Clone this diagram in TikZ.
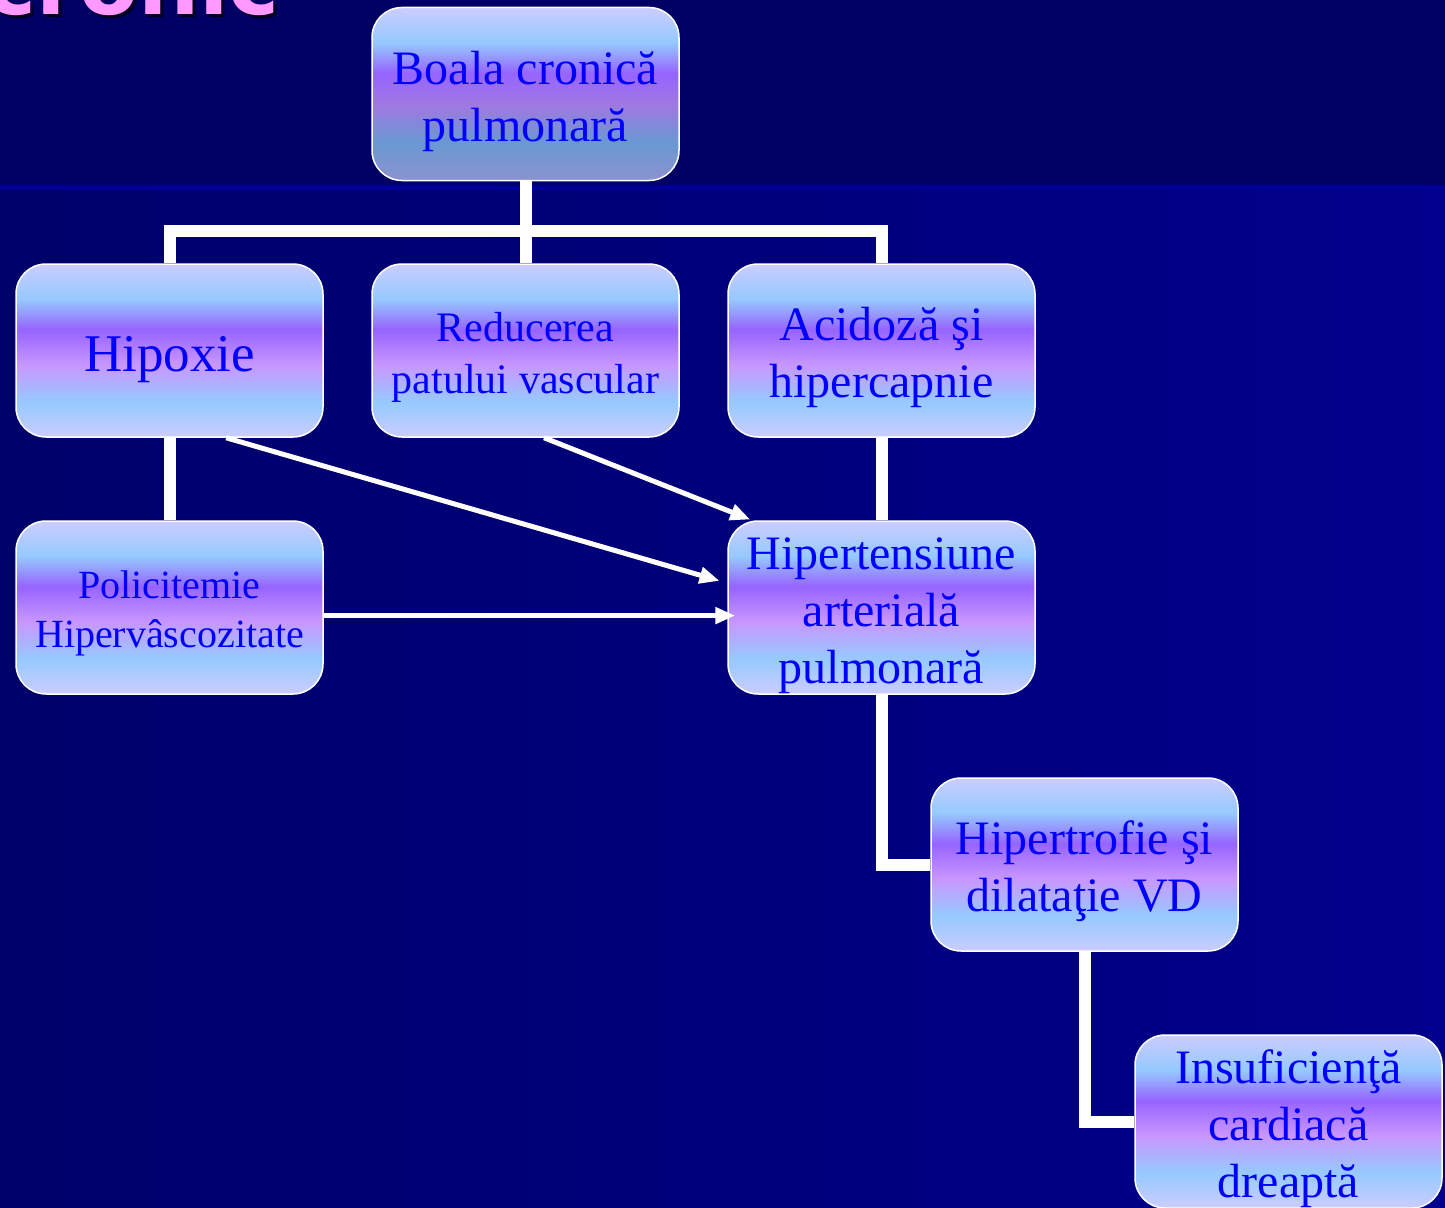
\documentclass[tikz,border=0pt]{standalone}
\usepackage{fontspec}
\setmainfont{Liberation Serif}
\newfontfamily\titlefont{DejaVu Sans}
\usetikzlibrary{arrows.meta, calc}

\definecolor{bgtop}{RGB}{0,0,100}
\definecolor{bgline}{RGB}{0,0,150}
\definecolor{bgleft}{RGB}{0,0,106}
\definecolor{bgright}{RGB}{0,0,140}
\definecolor{textblue}{RGB}{0,0,255}
\definecolor{titlepink}{RGB}{255,153,255}
\definecolor{titleshade}{RGB}{0,0,30}
\definecolor{boxlav}{RGB}{204,204,255}
\definecolor{boxblue}{RGB}{150,202,255}
\definecolor{boxpurple}{RGB}{150,100,255}
\definecolor{boxlilac}{RGB}{200,150,255}
\definecolor{topsteel}{RGB}{105,152,210}
\definecolor{topbottom}{RGB}{140,146,206}
\definecolor{topmauve}{RGB}{160,120,225}

\pgfdeclareverticalshading{boxshade}{100bp}{color(0bp)=(boxlav); color(25bp)=(boxlav);
  color(35bp)=(boxblue); color(46bp)=(boxlilac); color(56bp)=(boxpurple);
  color(65bp)=(boxblue); color(75bp)=(boxlav); color(100bp)=(boxlav)}
\pgfdeclareverticalshading{topshade}{100bp}{color(0bp)=(topbottom); color(25bp)=(topbottom);
  color(36bp)=(topsteel); color(47bp)=(topmauve); color(56bp)=(boxpurple);
  color(65bp)=(boxblue); color(75bp)=(boxlav); color(100bp)=(boxlav)}

% taller first line, so the text sits a little low in its box
\newcommand{\boxstrut}{\rule{0pt}{1em}}

\begin{document}
\begin{tikzpicture}[x=1pt,y=-1pt,
box/.style={draw=white,line width=1.5pt,rounded corners=30pt,shading=boxshade,
  minimum width=307pt,minimum height=173pt,inner sep=0pt,align=center,
  text=textblue,font=\fontsize{48}{57}\selectfont},
tree/.style={white,line width=12pt},
link/.style={white,line width=5pt,-{Triangle[length=20pt,width=16pt]}},
heading/.style={inner sep=0pt,anchor=base east,font=\titlefont\bfseries\fontsize{86}{86}\selectfont}]

  \useasboundingbox (0,0) rectangle (1445,1207);

  % background
  \fill[bgtop] (0,0) rectangle (1445,186);
  \fill[left color=bgleft,right color=bgright] (0,190) rectangle (1445,1207);
  \fill[bgline] (0,185) rectangle (1445,190);

  % title, cut at the top
  \node[heading,text=titleshade] (titleshadow) at (283,18) {cronic};
  \node[heading,text=titlepink]  (title)       at (280,15) {cronic};

  % boxes
  \node[box,shading=topshade] (boala) at (525.5,94) {\boxstrut Boala cronică\\pulmonară};
  \node[box,font=\fontsize{53}{60}\selectfont] (hipoxie) at (169.5,350.5) {\boxstrut Hipoxie};
  \node[box,font=\fontsize{42}{52}\selectfont] (reducerea) at (525.5,350.5) {\boxstrut Reducerea\\patului vascular};
  \node[box] (acidoza) at (881.5,350.5) {\boxstrut Acidoză şi\\hipercapnie};
  \node[box,font=\fontsize{40}{49}\selectfont] (policitemie) at (169.5,607.5) {\boxstrut Policitemie\\Hipervâscozitate};
  \node[box] (hta) at (881.5,607.5) {\boxstrut Hipertensiune\\arterială\\pulmonară};
  \node[box] (hipertrofie) at (1084.5,864.5) {\boxstrut Hipertrofie şi\\dilataţie VD};
  \node[box] (insuf) at (1288.5,1121.5) {\boxstrut Insuficienţă\\cardiacă\\dreaptă};

  \coordinate (split) at (525.5,231);

  % tree
  \draw[tree] (boala.south) -- (reducerea.north);
  \draw[tree] (hipoxie.north) |- (split) -| (acidoza.north);
  \draw[tree] (hipoxie.south) -- (policitemie.north);
  \draw[tree] (acidoza.south) -- (hta.north);
  \draw[tree] (hta.south) |- (hipertrofie.west);
  \draw[tree] (hipertrofie.south) |- (insuf.west);

  % arrows
  \draw[link,shorten >=8pt] (hipoxie.-57) -- (hta.171);
  \draw[link,shorten >=2pt] (reducerea.-78) -- (hta.146);
  \draw[link,shorten >=-8pt] (policitemie.-3) -- (policitemie.-3 -| hta.west);
\end{tikzpicture}
\end{document}
